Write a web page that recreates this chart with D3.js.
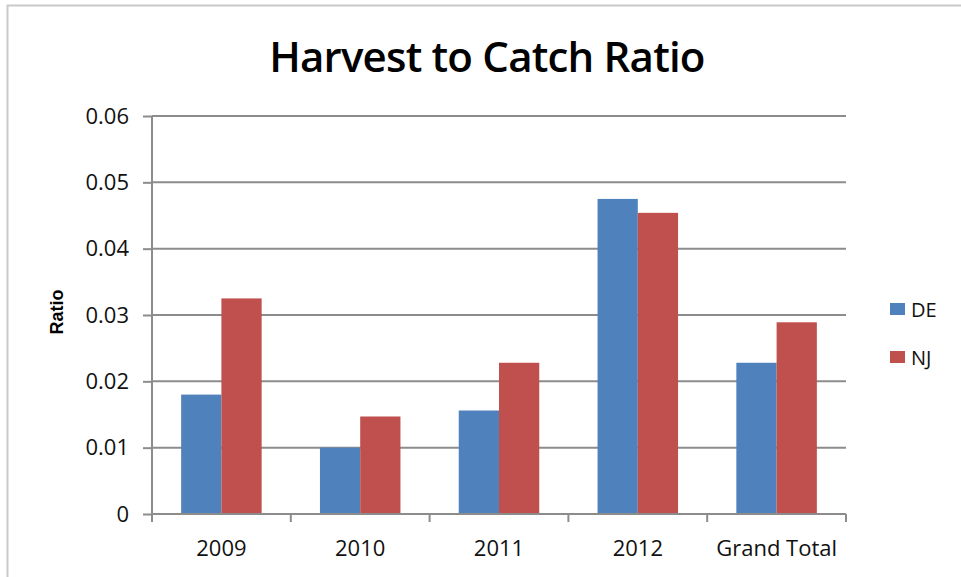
<!DOCTYPE html>
<html>
<head>
<meta charset="utf-8">
<script src="https://cdn.jsdelivr.net/npm/d3@7"></script>
<style>
  body { margin: 0; background: #fff; }
</style>
</head>
<body>
<svg id="chart" width="961" height="577"></svg>
<script>
var years = ["2009", "2010", "2011", "2012", "Grand Total"]
var series = ["DE", "NJ"]
var deValues = [0.0180, 0.0100, 0.0156, 0.0475, 0.0228]
var njValues = [0.0325, 0.0147, 0.0228, 0.0454, 0.0289]
var yTicks = [0, 0.01, 0.02, 0.03, 0.04, 0.05, 0.06]
var colors = {DE: "#4f81bd", NJ: "#c0504d"}

var svg = d3.select("#chart")
var plotLeft = 152, plotRight = 846, plotTop = 116, plotBottom = 514

// chart border, only top and left edges show
svg.append("path")
  .attr("d", "M7.5,577 V5.5 H961")
  .attr("fill", "none")
  .attr("stroke", "#c9c9c9")
  .attr("stroke-width", 2)

svg.append("text")
  .attr("x", 487)
  .attr("y", 72)
  .attr("text-anchor", "middle")
  .style("font-family", "Open Sans, sans-serif")
  .style("font-weight", "600")
  .style("font-size", "42px")
  .style("letter-spacing", "-0.8px")
  .text("Harvest to Catch Ratio")

var x = d3.scaleBand().domain(years).range([plotLeft, plotRight])
var gap = x.bandwidth() * 0.21
var xs = d3.scaleBand().domain(series).range([gap, x.bandwidth() - gap])
var y = d3.scaleLinear().domain([0, 0.06]).range([plotBottom, plotTop])

// gridlines
svg.append("g")
  .selectAll("line")
  .data(yTicks.slice(1))
  .enter()
  .append("line")
  .attr("x1", plotLeft)
  .attr("x2", plotRight)
  .attr("y1", function(d){ return y(d) })
  .attr("y2", function(d){ return y(d) })
  .attr("stroke", "#8c8c8c")
  .attr("stroke-width", 2)

var rows = years.map(function(d, i){
  return {year: d, DE: deValues[i], NJ: njValues[i]}
})

svg.append("g")
  .selectAll("g")
  .data(rows)
  .enter()
  .append("g")
  .attr("transform", function(d){ return "translate(" + x(d.year) + ",0)" })
  .selectAll("rect")
  .data(function(d){ return series.map(function(s){ return {key: s, value: d[s]} }) })
  .enter()
  .append("rect")
  .attr("x", function(d){ return xs(d.key) })
  .attr("y", function(d){ return y(d.value) })
  .attr("width", xs.bandwidth())
  .attr("height", function(d){ return plotBottom - y(d.value) })
  .style("fill", function(d){ return colors[d.key] })

var yAxis = d3.axisLeft(y)
  .tickValues(yTicks)
  .tickSize(9)
  .tickPadding(14)
  .tickFormat(function(d){ return d === 0 ? "0" : d.toFixed(2) })

var gy = svg.append("g")
  .attr("transform", "translate(" + plotLeft + ",0)")
  .call(yAxis)
gy.selectAll("line, path").attr("stroke", "#8c8c8c").attr("stroke-width", 2)
gy.select(".domain").attr("d", "M0," + plotTop + "V" + plotBottom)
gy.selectAll("text")
  .style("font-family", "Open Sans, sans-serif")
  .style("font-size", "22px")
  .attr("fill", "#111")

// x axis with ticks at category edges
var xAxis = d3.axisBottom(x).tickSize(0).tickPadding(26)
var gx = svg.append("g")
  .attr("transform", "translate(0," + plotBottom + ")")
  .call(xAxis)
gx.select(".domain").attr("d", "M" + plotLeft + ",0H" + plotRight)
  .attr("stroke", "#8c8c8c").attr("stroke-width", 2)
gx.selectAll("text")
  .style("font-family", "Open Sans, sans-serif")
  .style("font-size", "22px")
  .attr("fill", "#111")

var edges = years.map(function(d){ return x(d) }).concat([plotRight])
gx.selectAll(".edge")
  .data(edges)
  .enter()
  .append("line")
  .attr("class", "edge")
  .attr("x1", function(d){ return d })
  .attr("x2", function(d){ return d })
  .attr("y1", 0)
  .attr("y2", 8)
  .attr("stroke", "#8c8c8c")
  .attr("stroke-width", 2)

svg.append("text")
  .attr("transform", "translate(63,312) rotate(-90)")
  .attr("text-anchor", "middle")
  .style("font-family", "Liberation Sans, Arial, sans-serif")
  .style("font-weight", "bold")
  .style("font-size", "18px")
  .text("Ratio")

// legend
var legend = svg.append("g")
  .selectAll("g")
  .data(series)
  .enter()
  .append("g")
  .attr("transform", function(d, i){ return "translate(890," + (303 + i * 48) + ")" })

legend.append("rect")
  .attr("width", 15)
  .attr("height", 12)
  .style("fill", function(d){ return colors[d] })

legend.append("text")
  .attr("x", 21)
  .attr("y", 14)
  .style("font-family", "Open Sans, sans-serif")
  .style("font-size", "20px")
  .attr("fill", "#111")
  .text(function(d){ return d })
</script>
</body>
</html>
